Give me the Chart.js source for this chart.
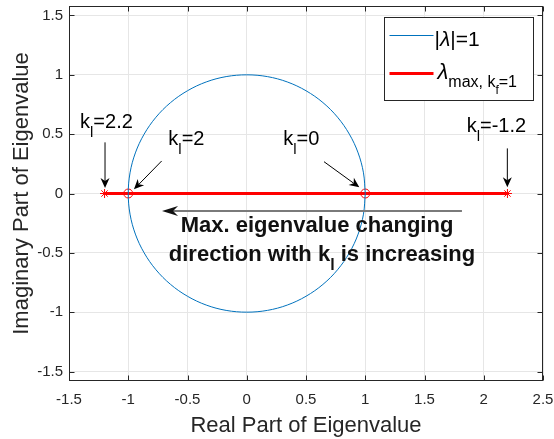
<!DOCTYPE html>
<html>
<head>
<meta charset="utf-8">
<script src="https://cdn.jsdelivr.net/npm/chart.js@4.4.1/dist/chart.umd.min.js"></script>
<style>html,body{margin:0;background:#fff}</style>
</head>
<body>
<canvas id="chart" width="554" height="439"></canvas>
<script>
// unit circle |lambda| = 1, read at 10 degree steps
const circleRe = [1, 0.985, 0.940, 0.866, 0.766, 0.643, 0.500, 0.342, 0.174, 0,
  -0.174, -0.342, -0.500, -0.643, -0.766, -0.866, -0.940, -0.985, -1,
  -0.985, -0.940, -0.866, -0.766, -0.643, -0.500, -0.342, -0.174, 0,
  0.174, 0.342, 0.500, 0.643, 0.766, 0.866, 0.940, 0.985, 1];
const circleIm = [0, 0.174, 0.342, 0.500, 0.643, 0.766, 0.866, 0.940, 0.985, 1,
  0.985, 0.940, 0.866, 0.766, 0.643, 0.500, 0.342, 0.174, 0,
  -0.174, -0.342, -0.500, -0.643, -0.766, -0.866, -0.940, -0.985, -1,
  -0.985, -0.940, -0.866, -0.766, -0.643, -0.500, -0.342, -0.174, 0];

// max eigenvalue path, k_l from 2.2 down to -1.2
const eigRe = [-1.2, -1, 1, 2.2];
const eigIm = [0, 0, 0, 0];
const eigKl = ['2.2', '2', '0', '-1.2'];

const xTicks = [-1.5, -1, -0.5, 0, 0.5, 1, 1.5, 2, 2.5];
const yTicks = [-1.5, -1, -0.5, 0, 0.5, 1, 1.5];

const SANS = '"Liberation Sans", Arial, sans-serif';
const INK = '#262626';

// label anchors (data coords) and arrows
const labelPos = [[-1.407, 0.549], [-0.662, 0.408], [0.308, 0.408], [1.856, 0.52]];
const arrows = [
  [-1.196, 0.431, -1.196, 0.046],
  [-0.718, 0.274, -0.952, 0.035],
  [0.652, 0.268, 0.95, 0.052],
  [2.199, 0.38, 2.199, 0.052]
];

function font(size, style) {
  return (style || '') + size + 'px ' + SANS;
}

// parts: [text, size, dy, style]
function rich(ctx, x, y, parts, align) {
  let w = 0;
  parts.forEach(p => { ctx.font = font(p[1], p[3]); w += ctx.measureText(p[0]).width; });
  let cx = align === 'center' ? x - w / 2 : x;
  ctx.textAlign = 'left';
  ctx.textBaseline = 'alphabetic';
  parts.forEach(p => {
    ctx.font = font(p[1], p[3]);
    ctx.fillText(p[0], cx, y + p[2]);
    cx += ctx.measureText(p[0]).width;
  });
}

function arrow(ctx, x1, y1, x2, y2, len, half, notch) {
  const ang = Math.atan2(y2 - y1, x2 - x1);
  const c = Math.cos(ang), s = Math.sin(ang);
  ctx.beginPath();
  ctx.moveTo(x1, y1);
  ctx.lineTo(x2 - c * (len - notch), y2 - s * (len - notch));
  ctx.stroke();
  ctx.beginPath();
  ctx.moveTo(x2, y2);
  ctx.lineTo(x2 - c * len - s * half, y2 - s * len + c * half);
  ctx.lineTo(x2 - c * (len - notch), y2 - s * (len - notch));
  ctx.lineTo(x2 - c * len + s * half, y2 - s * len - c * half);
  ctx.closePath();
  ctx.fill();
}

const decor = {
  id: 'decor',
  afterDatasetsDraw(chart) {
    const {ctx, chartArea: a, scales: {x, y}} = chart;
    ctx.save();

    // axes box with inner ticks
    ctx.strokeStyle = INK;
    ctx.lineWidth = 1;
    const L = Math.round(a.left) + 0.5, R = Math.round(a.right) - 0.5;
    const T = Math.round(a.top) + 0.5, B = Math.round(a.bottom) - 0.5;
    ctx.strokeRect(L, T, R - L, B - T);
    ctx.beginPath();
    xTicks.forEach(v => {
      const px = Math.round(x.getPixelForValue(v)) + 0.5;
      ctx.moveTo(px, B); ctx.lineTo(px, B - 5);
      ctx.moveTo(px, T); ctx.lineTo(px, T + 5);
    });
    yTicks.forEach(v => {
      const py = Math.round(y.getPixelForValue(v)) + 0.5;
      ctx.moveTo(L, py); ctx.lineTo(L + 5, py);
      ctx.moveTo(R, py); ctx.lineTo(R - 5, py);
    });
    ctx.stroke();

    // k_l labels and arrows
    ctx.fillStyle = '#000';
    ctx.strokeStyle = '#000';
    eigKl.forEach((k, i) => {
      rich(ctx, x.getPixelForValue(labelPos[i][0]), y.getPixelForValue(labelPos[i][1]),
        [['k', 20, 0], ['l', 15, 9], ['=' + k, 20, 0]]);
      const r = arrows[i];
      arrow(ctx, x.getPixelForValue(r[0]), y.getPixelForValue(r[1]),
        x.getPixelForValue(r[2]), y.getPixelForValue(r[3]), 10, 4.5, 3);
    });

    // direction arrow and note
    ctx.lineWidth = 2;
    ctx.strokeStyle = '#7a7a7a';
    ctx.fillStyle = '#111';
    arrow(ctx, x.getPixelForValue(1.816), y.getPixelForValue(-0.147),
      x.getPixelForValue(-0.715), y.getPixelForValue(-0.147), 16, 5, 5);
    ctx.fillStyle = '#111';
    rich(ctx, x.getPixelForValue(0.593), y.getPixelForValue(-0.322),
      [['Max. eigenvalue changing', 22, 0, 'bold ']], 'center');
    rich(ctx, x.getPixelForValue(0.635), y.getPixelForValue(-0.565),
      [['direction with k', 22, 0, 'bold '], ['l', 16, 9, 'bold '], [' is increasing', 22, 0, 'bold ']], 'center');

    // legend
    const bw = 149, bh = 83;
    const bx = Math.round(a.right - 10 - bw) + 0.5, by = Math.round(a.top + 11) + 0.5;
    ctx.fillStyle = '#fff';
    ctx.fillRect(bx, by, bw, bh);
    ctx.lineWidth = 1;
    ctx.strokeStyle = INK;
    ctx.strokeRect(bx, by, bw, bh);
    const ds = chart.data.datasets;
    ctx.strokeStyle = ds[0].borderColor;
    ctx.lineWidth = ds[0].borderWidth;
    ctx.beginPath(); ctx.moveTo(bx + 5, by + 18); ctx.lineTo(bx + 49, by + 18); ctx.stroke();
    ctx.strokeStyle = ds[1].borderColor;
    ctx.lineWidth = ds[1].borderWidth;
    ctx.beginPath(); ctx.moveTo(bx + 5, by + 56); ctx.lineTo(bx + 49, by + 56); ctx.stroke();
    ctx.fillStyle = '#000';
    rich(ctx, bx + 50, by + 28, [['|', 21, 0], ['λ', 21, 0, 'italic '], ['|=1', 21, 0]]);
    rich(ctx, bx + 53, by + 61, [['λ', 22, 0, 'italic '], ['max, k', 16, 8], ['f', 12, 15], ['=1', 16, 8]]);

    ctx.restore();
  }
};

new Chart(document.getElementById('chart'), {
  type: 'scatter',
  data: {
    datasets: [
      {
        label: '|λ|=1',
        data: circleRe.map((v, i) => ({x: v, y: circleIm[i]})),
        showLine: true,
        tension: 0.35,
        borderColor: '#0072BD',
        borderWidth: 1,
        pointRadius: 0,
        fill: false
      },
      {
        label: 'λmax, kf=1',
        data: eigRe.map((v, i) => ({x: v, y: eigIm[i]})),
        showLine: true,
        borderColor: '#ff0000',
        borderWidth: 3,
        pointStyle: ['star', 'circle', 'circle', 'star'],
        pointRadius: [4.5, 4.5, 4.5, 4.5],
        pointBorderColor: '#ff0000',
        pointBackgroundColor: 'rgba(0,0,0,0)',
        pointBorderWidth: 1
      }
    ]
  },
  options: {
    responsive: false,
    animation: false,
    layout: {padding: {top: 6, right: 11, left: 0, bottom: 0}},
    plugins: {legend: {display: false}, tooltip: {enabled: false}},
    scales: {
      x: {
        type: 'linear', min: -1.5, max: 2.5,
        afterBuildTicks: s => { s.ticks = xTicks.map(v => ({value: v})); },
        afterFit: s => { s.height = 58; s.paddingLeft = 0; s.paddingRight = 0; },
        ticks: {callback: v => String(v), color: INK, font: {family: SANS, size: 15}, padding: 10, maxRotation: 0},
        grid: {color: '#e6e6e6', drawTicks: false},
        border: {display: false},
        title: {display: true, text: 'Real Part of Eigenvalue', color: INK, font: {family: SANS, size: 22}, padding: {top: 0, bottom: 0}}
      },
      y: {
        type: 'linear', min: -1.58, max: 1.58,
        afterBuildTicks: s => { s.ticks = yTicks.map(v => ({value: v})); },
        afterFit: s => { s.width = 69; s.paddingTop = 0; s.paddingBottom = 0; },
        ticks: {callback: v => String(v), color: INK, font: {family: SANS, size: 15}, padding: 6},
        grid: {color: '#e6e6e6', drawTicks: false},
        border: {display: false},
        title: {display: true, text: 'Imaginary Part of Eigenvalue', color: INK, font: {family: SANS, size: 22}, padding: {top: 9, bottom: 0}}
      }
    }
  },
  plugins: [decor]
});
</script>
</body>
</html>
